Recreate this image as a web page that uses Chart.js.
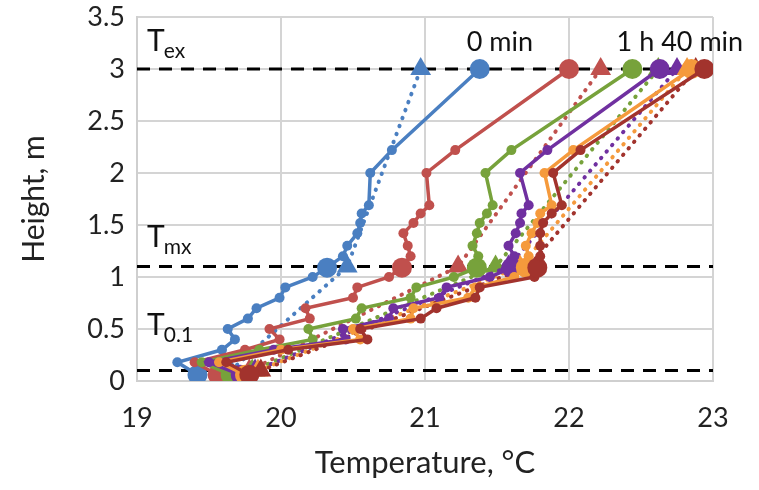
<!DOCTYPE html>
<html>
<head>
<meta charset="utf-8">
<script src="https://cdn.jsdelivr.net/npm/chart.js@4.4.0/dist/chart.umd.min.js"></script>
<style>
  html, body { margin: 0; padding: 0; background: #fff; }
  #wrap { width: 759px; height: 490px; }
</style>
</head>
<body>
<div id="wrap"><canvas id="chart"></canvas></div>
<script>
// measured heights (m), shared by all profiles
const heights = [0.06, 0.18, 0.3, 0.4, 0.5, 0.6, 0.7, 0.8, 0.9, 1.0, 1.09, 1.2, 1.3, 1.42, 1.52, 1.61, 1.69, 2.0, 2.22, 3.0];
const bigPoints = [0, 10, 19]; // floor, Tmx, Tex

// temperature profiles, one per time step
const t0min   = [19.42, 19.28, 19.59, 19.68, 19.63, 19.77, 19.83, 19.99, 20.03, 20.22, 20.32, 20.43, 20.46, 20.53, 20.55, 20.56, 20.61, 20.62, 20.77, 21.38];
const t20min  = [19.56, 19.40, 19.75, 19.99, 19.92, 20.20, 20.17, 20.50, 20.53, 20.75, 20.84, 20.90, 20.88, 20.85, 20.92, 20.97, 21.03, 21.01, 21.21, 22.00];
const t40min  = [19.65, 19.45, 19.85, 20.22, 20.19, 20.52, 20.56, 20.90, 20.94, 21.20, 21.36, 21.37, 21.33, 21.36, 21.38, 21.43, 21.47, 21.42, 21.60, 22.44];
const t60min  = [19.72, 19.50, 19.95, 20.45, 20.43, 20.75, 20.78, 21.10, 21.15, 21.45, 21.60, 21.62, 21.58, 21.63, 21.66, 21.67, 21.72, 21.66, 21.85, 22.63];
const t80min  = [19.75, 19.57, 20.00, 20.55, 20.50, 20.90, 20.92, 21.30, 21.35, 21.62, 21.70, 21.72, 21.70, 21.74, 21.78, 21.80, 21.88, 21.83, 22.03, 22.85];
const t100min = [19.78, 19.62, 20.05, 20.60, 20.55, 20.97, 21.08, 21.35, 21.38, 21.76, 21.78, 21.80, 21.80, 21.80, 21.82, 21.88, 21.95, 21.89, 22.08, 22.94];

// model values (triangles) at the three reference heights
const modelHeights = [0.1, 1.1, 3.0];
const m0min   = [19.65, 20.46, 20.97];
const m20min  = [19.78, 21.23, 22.22];
const m40min  = [19.80, 21.49, 22.62];
const m60min  = [19.82, 21.58, 22.75];
const m80min  = [19.84, 21.66, 22.82];
const m100min = [19.86, 21.72, 22.88];

const refLevels = [3.0, 1.1, 0.1];
const colors = ['#4a7fc1', '#c0504d', '#77a23b', '#7030a0', '#f59a3c', '#a2332d'];

const xTicks = [19, 20, 21, 22, 23];
const yTicks = [0, 0.5, 1, 1.5, 2, 2.5, 3, 3.5];

// text labels placed in data units
const notes = [
  { main: 'T', sub: 'ex',  x: 19.07, y: 3.17, align: 'left' },
  { main: 'T', sub: 'mx',  x: 19.07, y: 1.29, align: 'left' },
  { main: 'T', sub: '0.1', x: 19.07, y: 0.44, align: 'left' },
  { main: '0 min', sub: '', x: 21.52, y: 3.17, align: 'center' },
  { main: '1 h 40 min', sub: '', x: 22.77, y: 3.17, align: 'center' }
];

const profiles = [t0min, t20min, t40min, t60min, t80min, t100min];
const models = [m0min, m20min, m40min, m60min, m80min, m100min];

let datasets = [];
refLevels.forEach(function (h) {
  datasets.push({
    data: [{ x: 19, y: h }, { x: 23, y: h }],
    borderColor: '#000',
    borderWidth: 3,
    borderDash: [13, 9],
    pointRadius: 0,
    showLine: true,
    order: 100
  });
});
models.forEach(function (m, i) {
  datasets.push({
    data: m.map((t, k) => ({ x: t, y: modelHeights[k] })),
    borderColor: colors[i],
    backgroundColor: colors[i],
    borderWidth: 4,
    borderDash: [0.5, 8],
    borderCapStyle: 'round',
    pointStyle: 'triangle',
    pointRadius: 12,
    pointBorderWidth: 0,
    showLine: true,
    order: 60 - i
  });
});
profiles.forEach(function (p, i) {
  datasets.push({
    data: p.map((t, k) => ({ x: t, y: heights[k] })),
    borderColor: colors[i],
    backgroundColor: colors[i],
    borderWidth: 3.5,
    pointRadius: heights.map((h, k) => bigPoints.includes(k) ? 10 : 5),
    pointBorderWidth: 0,
    showLine: true,
    order: 50 - i
  });
});

const notePlugin = {
  id: 'notes',
  afterDatasetsDraw(chart) {
    const ctx = chart.ctx;
    const xs = chart.scales.x, ys = chart.scales.y;
    ctx.save();
    ctx.fillStyle = '#111';
    ctx.textBaseline = 'alphabetic';
    notes.forEach(function (n) {
      const px = xs.getPixelForValue(n.x);
      const py = ys.getPixelForValue(n.y);
      if (n.sub) {
        ctx.font = '30px Lato';
        ctx.textAlign = 'left';
        ctx.fillText(n.main, px, py);
        const w = ctx.measureText(n.main).width;
        ctx.font = '21px Lato';
        ctx.fillText(n.sub, px + w - 1, py + 7);
      } else {
        ctx.font = '27px Lato';
        ctx.textAlign = n.align;
        ctx.fillText(n.main, px, py);
      }
    });
    ctx.restore();
  }
};

new Chart(document.getElementById('chart'), {
  type: 'scatter',
  data: { datasets: datasets },
  plugins: [notePlugin],
  options: {
    responsive: true,
    maintainAspectRatio: false,
    animation: false,
    layout: { padding: { top: 17, right: 46, left: 0, bottom: 0 } },
    plugins: { legend: { display: false }, tooltip: { enabled: false } },
    scales: {
      x: {
        type: 'linear',
        min: 19, max: 23,
        afterBuildTicks: (s) => { s.ticks = xTicks.map(v => ({ value: v })); },
        afterFit: (s) => { s.height = 109; s.paddingLeft = 0; s.paddingRight = 0; },
        grid: { color: '#d4d4d4', lineWidth: 2, drawTicks: false },
        border: { color: '#cfcfcf', width: 2 },
        ticks: { color: '#222', font: { family: 'Lato', size: 27, lineHeight: 1 }, padding: 24 },
        title: { display: true, text: 'Temperature, °C', color: '#222',
                 font: { family: 'Lato', size: 31 }, padding: { top: 0, bottom: 8 } }
      },
      y: {
        type: 'linear',
        min: 0, max: 3.5,
        afterBuildTicks: (s) => { s.ticks = yTicks.map(v => ({ value: v })); },
        afterFit: (s) => { s.width = 137; s.paddingTop = 0; s.paddingBottom = 0; },
        grid: { color: '#d4d4d4', lineWidth: 2, drawTicks: false },
        border: { color: '#cfcfcf', width: 2 },
        ticks: { color: '#222', font: { family: 'Lato', size: 27, lineHeight: 1 }, padding: 12,
                 callback: (v) => String(v) },
        title: { display: true, text: 'Height, m', color: '#222',
                 font: { family: 'Lato', size: 30 }, padding: { top: 16, bottom: 0 } }
      }
    }
  }
});
</script>
</body>
</html>
